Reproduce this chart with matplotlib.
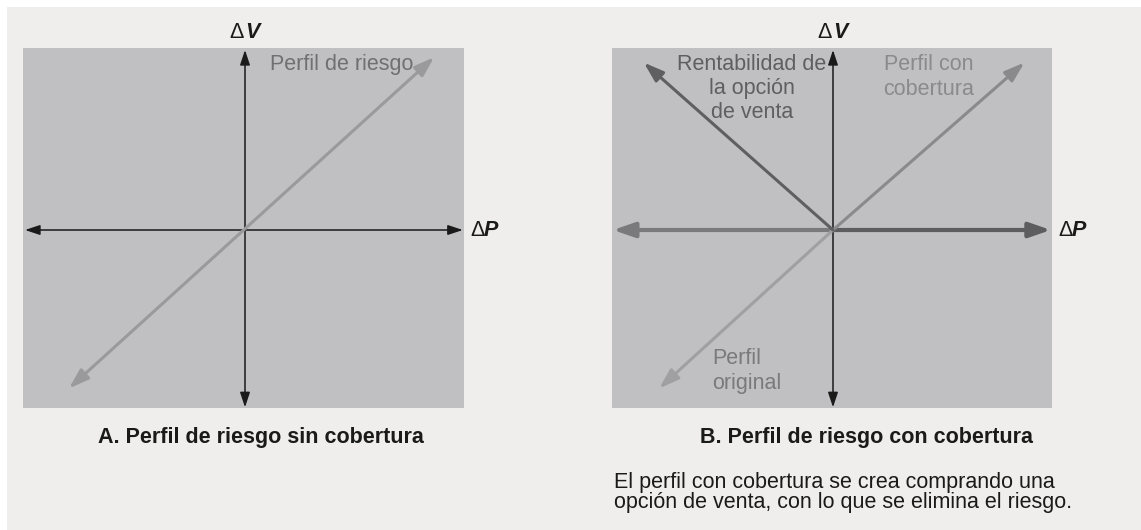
import matplotlib
matplotlib.use("Agg")
import matplotlib.pyplot as plt
from matplotlib.patches import Rectangle

plt.rcParams['font.family'] = ['Liberation Sans', 'DejaVu Sans']

W, H, DPI = 1141, 530, 100

# ---- data (diagram units: axis half-length ~ 1) ----
axis_h_x = [-1.0, 0.99]
axis_v_y = [-0.985, 1.0]

perfil_riesgo_x = [-0.80, 0.86]
perfil_riesgo_y = [-0.88, 0.96]

rentabilidad_x = [0.0, -0.86]
rentabilidad_y = [0.0, 0.93]

cobertura_x = [0.0, 0.87]
cobertura_y = [0.0, 0.93]

original_x = [0.0, -0.79]
original_y = [0.0, -0.88]

plano_izq_x = [0.0, -1.0]
plano_der_x = [0.0, 0.99]

label_riesgo = "Perfil de riesgo"
label_rent = "Rentabilidad de\nla opción\nde venta"
label_cob = "Perfil con\ncobertura"
label_orig = "Perfil\noriginal"
title_a = "A. Perfil de riesgo sin cobertura"
title_b = "B. Perfil de riesgo con cobertura"
caption = ["El perfil con cobertura se crea comprando una",
           "opción de venta, con lo que se elimina el riesgo."]

BG = '#efeeec'
BOX = '#c0c0c2'
BLACK = '#1a1a1a'

fig = plt.figure(figsize=(W / DPI, H / DPI), dpi=DPI, facecolor=BG)
fig.patches.append(Rectangle((0, 1 - 7 / H), 1, 7 / H, transform=fig.transFigure,
                             facecolor='white', edgecolor='none', zorder=0))
fig.patches.append(Rectangle((0, 0), 7 / W, 1, transform=fig.transFigure,
                             facecolor='white', edgecolor='none', zorder=0))


def px_axes(x0, y0, x1, y1):
    return fig.add_axes([x0 / W, 1 - y1 / H, (x1 - x0) / W, (y1 - y0) / H])


def arrow(ax, xs, ys, color, lw, style, scale, hl, hw):
    ax.annotate('', xy=(xs[1], ys[1]), xytext=(xs[0], ys[0]),
                arrowprops=dict(arrowstyle=f'{style},head_length={hl},head_width={hw}',
                                color=color, lw=lw, shrinkA=0, shrinkB=0,
                                mutation_scale=scale),
                annotation_clip=False)


def setup(ax, ox, x0, x1):
    ax.set_facecolor(BOX)
    ax.set_xlim(-(ox - x0) / 220, (x1 - ox) / 220)
    ax.set_ylim(-(408 - 230) / 180, (230 - 48) / 180)
    for s in ax.spines.values():
        s.set_visible(False)
    ax.set_xticks([])
    ax.set_yticks([])


def axis_labels(ax):
    ax.text(-0.005, 1.095, 'Δ', ha='right', va='center', fontsize=15.5, color=BLACK)
    ax.text(0.0, 1.095, 'V', ha='left', va='center', fontsize=15.5, color=BLACK,
            fontweight='bold', fontstyle='italic')
    ax.text(1.025, 0.0, 'Δ', ha='left', va='center', fontsize=15.5, color=BLACK)
    ax.text(1.085, 0.0, 'P', ha='left', va='center', fontsize=15.5, color=BLACK,
            fontweight='bold', fontstyle='italic')


# ---------------- Panel A ----------------
axA = px_axes(23, 48, 464, 408)
setup(axA, 245, 23, 464)
arrow(axA, axis_h_x, [0, 0], BLACK, 1.1, '<|-|>', 10, 0.9, 0.3)
arrow(axA, [0, 0], axis_v_y, BLACK, 1.1, '<|-|>', 10, 0.9, 0.3)
arrow(axA, perfil_riesgo_x, perfil_riesgo_y, '#9a9a9c', 2.2, '<|-|>', 10, 1.2, 0.4)
axA.text(0.114, 0.92, label_riesgo, ha='left', va='center', fontsize=15.5, color='#707072')
axis_labels(axA)

# ---------------- Panel B ----------------
axB = px_axes(612, 48, 1052, 408)
setup(axB, 833, 612, 1052)
arrow(axB, [0, 0], axis_v_y, BLACK, 1.1, '<|-|>', 10, 0.9, 0.3)
arrow(axB, plano_izq_x, [0, 0], '#7a7a7c', 3.0, '-|>', 10, 1.3, 0.45)
arrow(axB, plano_der_x, [0, 0], '#5d5d5f', 3.0, '-|>', 10, 1.3, 0.45)
arrow(axB, original_x, original_y, '#a0a0a2', 2.2, '-|>', 10, 1.2, 0.4)
arrow(axB, cobertura_x, cobertura_y, '#8a8a8c', 2.2, '-|>', 10, 1.2, 0.4)
arrow(axB, rentabilidad_x, rentabilidad_y, '#5f5f61', 2.2, '-|>', 10, 1.2, 0.4)
axB.text(-0.368, 0.785, label_rent, ha='center', va='center', multialignment='center',
         fontsize=15.5, color='#5f5f61', linespacing=1.2)
axB.text(0.436, 0.85, label_cob, ha='center', va='center', multialignment='center',
         fontsize=15.5, color='#8a8a8c', linespacing=1.2)
axB.text(-0.55, -0.783, label_orig, ha='left', va='center', multialignment='left',
         fontsize=15.5, color='#7a7a7c', linespacing=1.22)
axis_labels(axB)

# ---------------- titles & caption ----------------
fig.text(261 / W, 1 - 438 / H, title_a, ha='center', va='center', fontsize=15.5,
         fontweight='bold', color=BLACK)
fig.text(867 / W, 1 - 438 / H, title_b, ha='center', va='center', fontsize=15.5,
         fontweight='bold', color=BLACK)
fig.text(614 / W, 1 - 488 / H, caption[0], ha='left', va='baseline', fontsize=15.5, color=BLACK)
fig.text(614 / W, 1 - 508 / H, caption[1], ha='left', va='baseline', fontsize=15.5, color=BLACK)

fig.savefig('out.png', dpi=DPI, facecolor=BG)
